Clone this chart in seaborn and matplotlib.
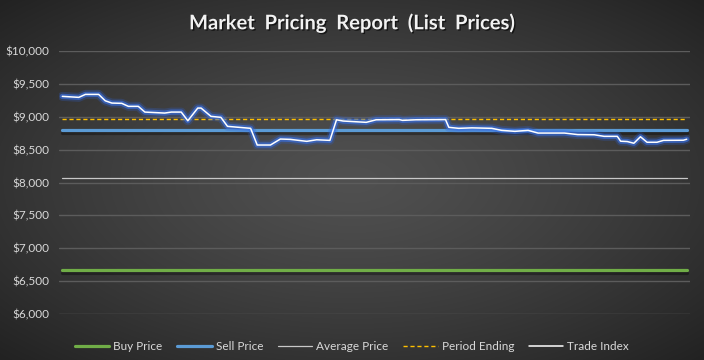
import numpy as np
import pandas as pd
import seaborn as sns
import matplotlib.pyplot as plt
import matplotlib.patheffects as pe
from matplotlib.lines import Line2D

# trade index (day number, price)
days = [0, 5, 7, 11, 13, 15, 18, 20, 23, 25, 29, 31, 33, 36, 38, 41, 42, 45, 48, 50,
        57, 59, 63, 66, 69, 74, 77, 81, 83, 85, 92, 95, 102, 103, 107, 116, 117, 120,
        124, 130, 133, 137, 141, 144, 152, 156, 161, 164, 168, 169, 171, 173, 175, 177,
        180, 182, 188, 189]
trade_index = [9310, 9295, 9340, 9340, 9243, 9208, 9204, 9158, 9158, 9071, 9061, 9056,
               9071, 9071, 8939, 9132, 9132, 9006, 8991, 8854, 8824, 8570, 8570, 8661,
               8656, 8626, 8650, 8641, 8954, 8935, 8915, 8954, 8957, 8945, 8954, 8957,
               8839, 8824, 8831, 8824, 8793, 8778, 8793, 8752, 8752, 8729, 8726, 8702,
               8702, 8628, 8623, 8597, 8696, 8612, 8612, 8641, 8643, 8658]

buy_price = 6670
sell_price = 8795
average_price = 8065
period_ending = 8960

y_ticks = [6000, 6500, 7000, 7500, 8000, 8500, 9000, 9500, 10000]

sns.set_style("dark")
plt.rcParams['font.family'] = ['Lato', 'DejaVu Sans']

fig = plt.figure(figsize=(7.04, 3.6), dpi=100)

# radial grey background like the Excel chart area
bg = fig.add_axes([0, 0, 1, 1], zorder=-10)
gx, gy = np.meshgrid(np.linspace(-1, 1, 704), np.linspace(-1, 1, 360))
r = np.clip(np.sqrt(gx**2 + gy**2) / np.sqrt(2), 0, 1)
shade = (80 - 46 * r**1.3) / 255
bg.imshow(np.dstack([shade, shade, shade]), aspect='auto', extent=[0, 1, 0, 1])
bg.axis('off')

ax = fig.add_axes([59 / 704, 1 - 314 / 360, 631 / 704, 263 / 360])
ax.patch.set_alpha(0)

ends = [days[0], days[-1]]
shadow = [pe.SimpleLineShadow(offset=(0, -2), shadow_color='black', alpha=0.35), pe.Normal()]

sns.lineplot(x=ends, y=[buy_price] * 2, ax=ax, color='#70ad47', lw=2.3,
             path_effects=shadow, zorder=3)
sns.lineplot(x=ends, y=[sell_price] * 2, ax=ax, color='#5b9bd5', lw=2.3,
             path_effects=shadow, zorder=4)
sns.lineplot(x=ends, y=[average_price] * 2, ax=ax, color='#c8c8c8', lw=0.9, zorder=3)
sns.lineplot(x=ends, y=[period_ending] * 2, ax=ax, color='#ffc000', lw=1.0,
             linestyle=(0, (3, 2)), zorder=3)

df = pd.DataFrame({"day": days, "price": trade_index})
sns.lineplot(data=df, x="day", y="price", ax=ax, color='white', lw=1.1, zorder=5,
             path_effects=[pe.Stroke(linewidth=6.5, foreground='#2f62d8', alpha=0.25),
                           pe.Stroke(linewidth=3.8, foreground='#3a70e0', alpha=0.65),
                           pe.Normal()])

ax.set_xlim(-1, 190)
ax.set_ylim(6000, 10000)
ax.set_yticks(y_ticks)
ax.set_yticklabels([f"${v:,}" for v in y_ticks])
ax.set_xticks([])
ax.set_xlabel("")
ax.set_ylabel("")
ax.grid(axis='y', color='#5c5c5c', lw=1)
for s in ax.spines.values():
    s.set_visible(False)
ax.tick_params(axis='y', colors='#d9d9d9', labelsize=8.5, length=0, pad=7)

fig.text(0.5, 1 - 23 / 360, "Market  Pricing  Report  (List  Prices)", ha='center',
         va='center', fontsize=14.5, fontweight='bold', color='#f2f2f2',
         path_effects=[pe.withSimplePatchShadow(offset=(1, -1), shadow_rgbFace='black', alpha=0.6)])

handles = [
    Line2D([], [], color='#70ad47', lw=2.3),
    Line2D([], [], color='#5b9bd5', lw=2.3),
    Line2D([], [], color='#c8c8c8', lw=0.9),
    Line2D([], [], color='#ffc000', lw=1.0, linestyle=(0, (3, 2))),
    Line2D([], [], color='white', lw=1.1),
]
labels = ["Buy Price", "Sell Price", "Average Price", "Period Ending", "Trade Index"]
fig.legend(handles, labels, loc='center', bbox_to_anchor=(0.5, 1 - 347 / 360), ncol=5,
           frameon=False, fontsize=8.5, labelcolor='#d9d9d9', handlelength=2.9,
           handletextpad=0.35, columnspacing=1.25)

fig.savefig("out.png", dpi=100)
